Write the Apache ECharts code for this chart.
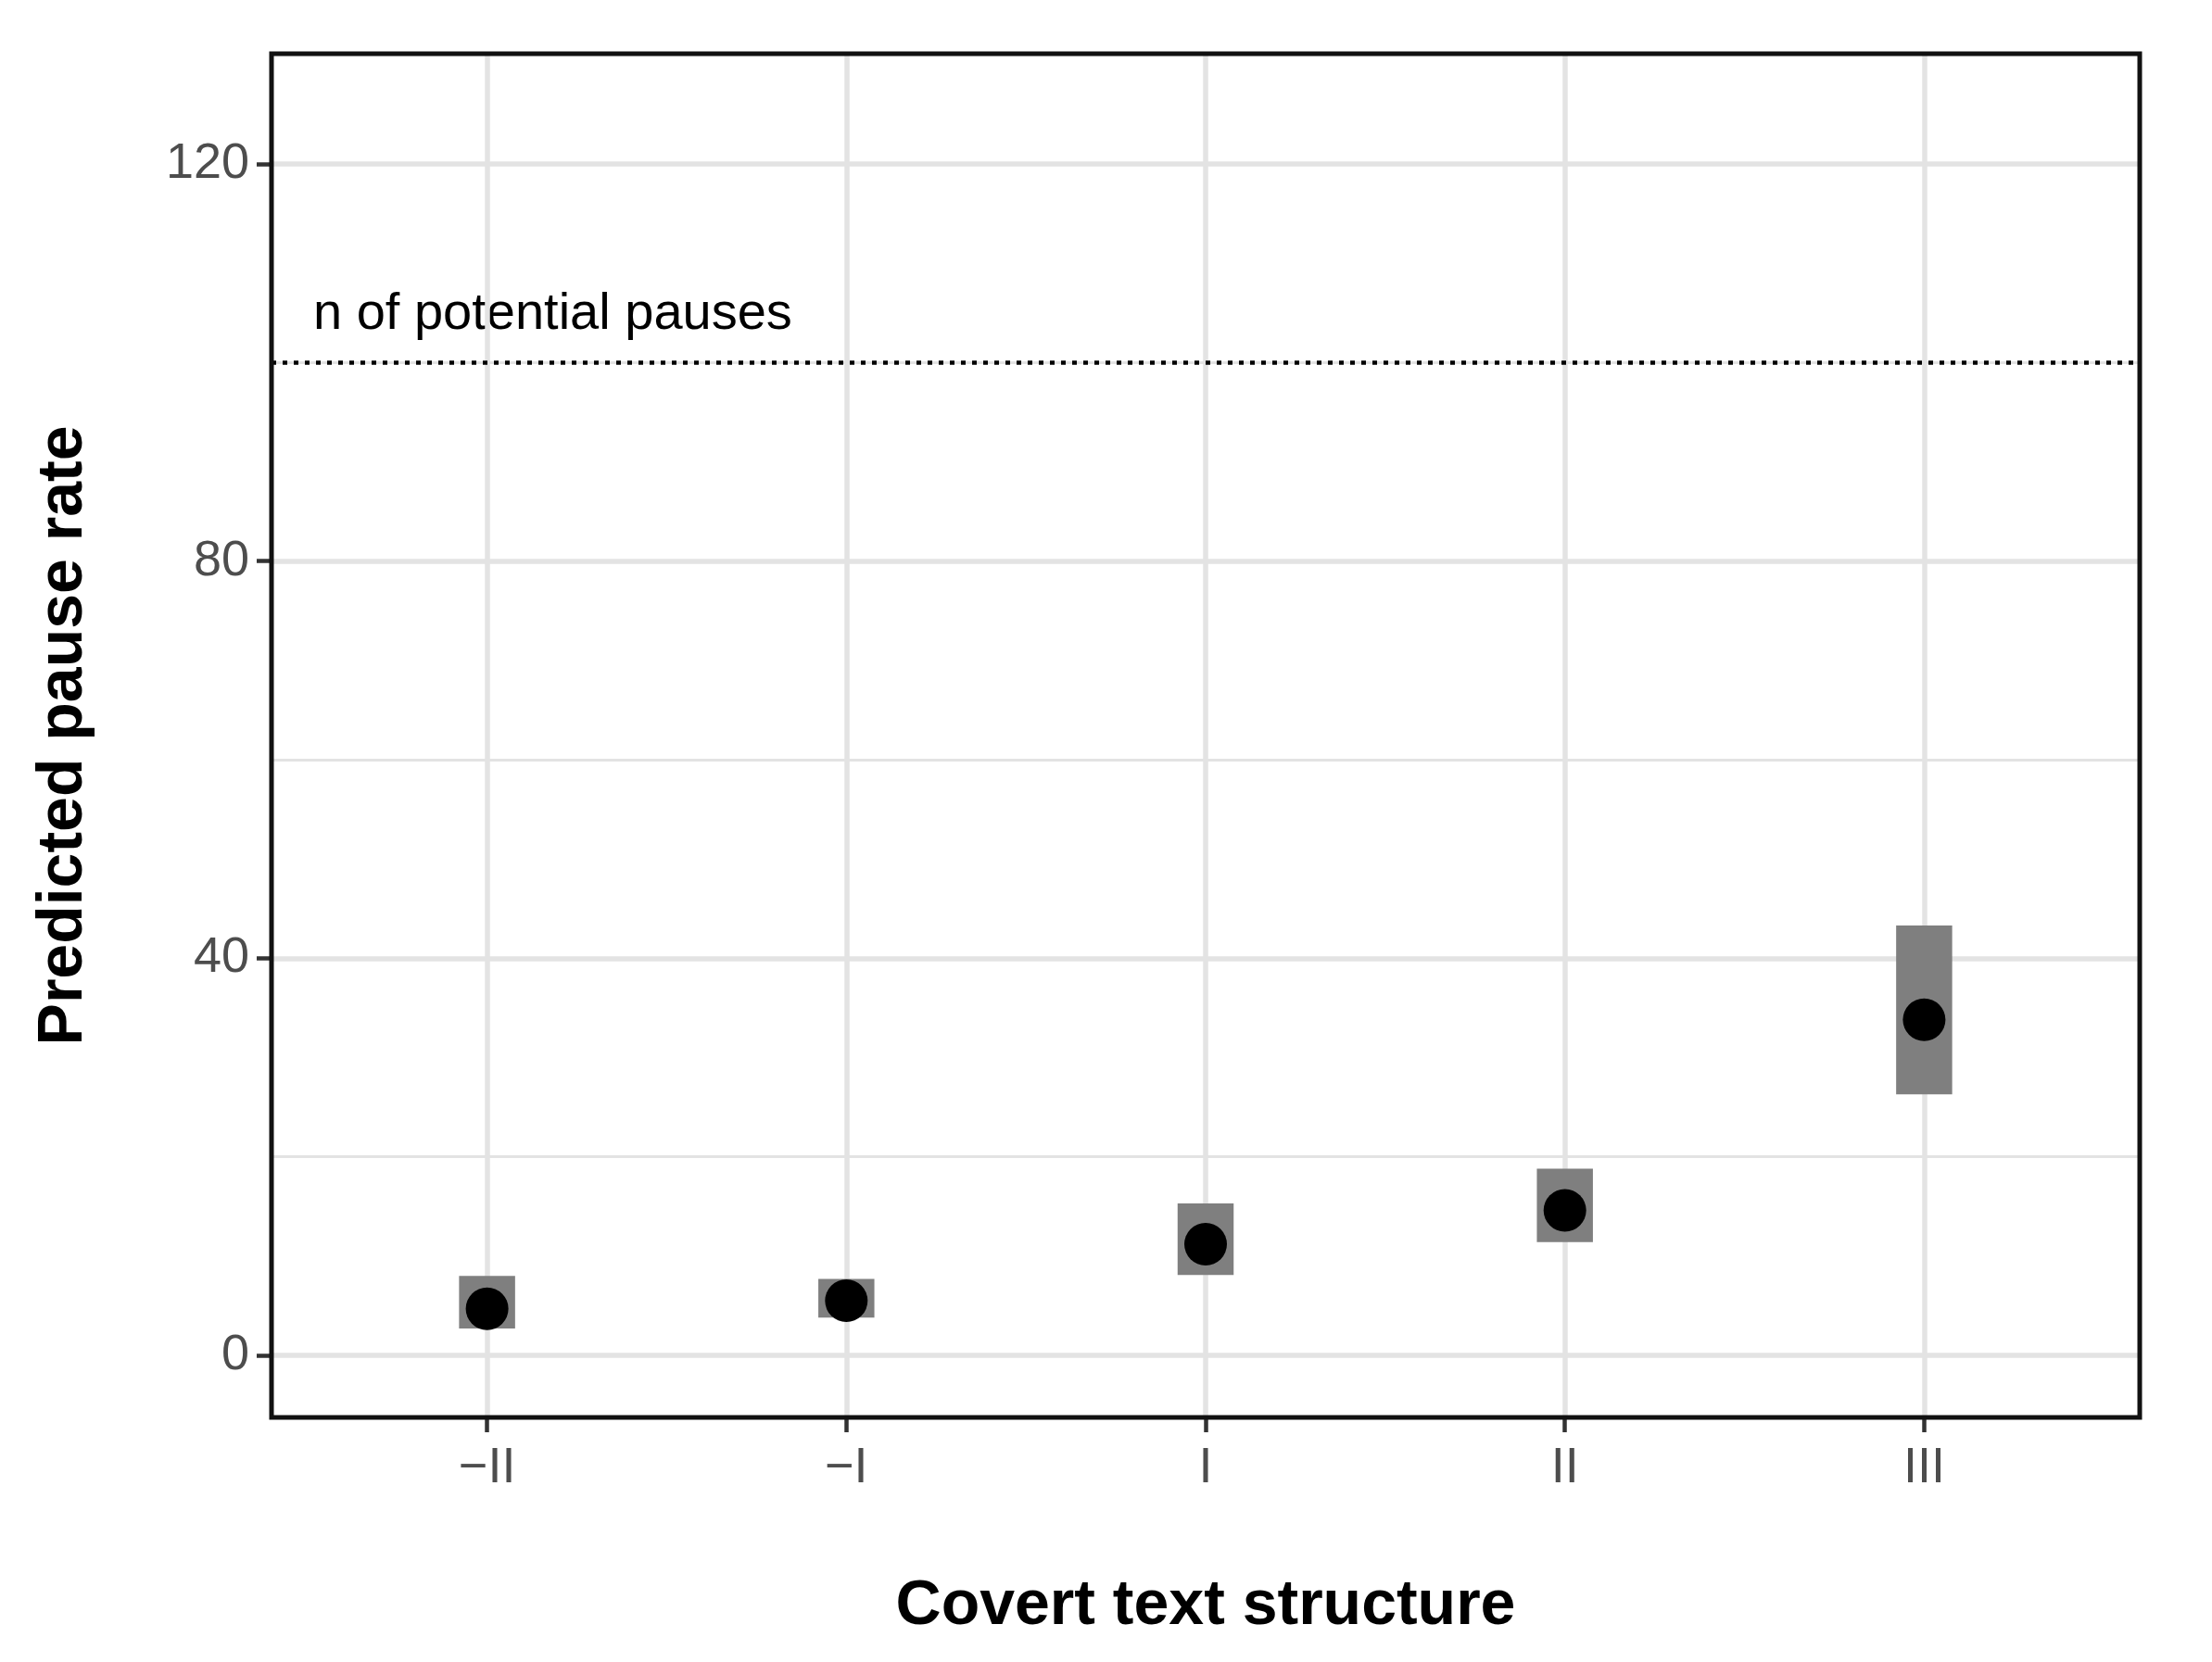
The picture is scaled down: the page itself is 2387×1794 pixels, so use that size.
<!DOCTYPE html>
<html><head><meta charset="utf-8">
<script src="https://cdn.jsdelivr.net/npm/echarts@6/dist/echarts.min.js"></script>
<style>html,body{margin:0;background:#fff}#c{width:2387px;height:1794px}</style>
</head><body><div id="c"></div>
<script>
var categories = ['\u2212II', '\u2212I', 'I', 'II', 'III'];
var estimates = [4.7, 5.5, 11.2, 14.6, 33.8];
var lower = [2.7, 3.8, 8.1, 11.4, 26.3];
var upper = [8.0, 7.7, 15.3, 18.8, 43.3];
var yTicks = [0, 40, 80, 120];
var yMinor = [20, 60, 100];
var potentialPauses = 100;

var chart = echarts.init(document.getElementById('c'));
var xs = categories.map(function(c, i){ return i; });
var gridColor = '#e3e3e3';
var lines = [];
yTicks.forEach(function(v){ lines.push({yAxis: v, lineStyle: {color: gridColor, width: 5.5, type: 'solid'}}); });
yMinor.forEach(function(v){ lines.push({yAxis: v, lineStyle: {color: gridColor, width: 2.8, type: 'solid'}}); });
xs.forEach(function(v){ lines.push({xAxis: v, lineStyle: {color: gridColor, width: 5.5, type: 'solid'}}); });

chart.setOption({
	animation: false,
	grid: {left: 293, right: 78, top: 58, bottom: 264, show: true, borderColor: '#111', borderWidth: 5, z: 10},
	xAxis: {
		type: 'value', min: -0.6, max: 4.6,
		name: 'Covert text structure', nameLocation: 'middle', nameGap: 170,
		nameTextStyle: {fontFamily: 'Liberation Sans', fontWeight: 'bold', fontSize: 68, color: '#000'},
		axisLine: {show: false, onZero: false},
		axisTick: {show: true, inside: false, customValues: xs, length: 16, lineStyle: {color: '#333', width: 4.5}},
		axisLabel: {customValues: xs, formatter: function(v){ return categories[Math.round(v)]; },
			fontFamily: 'Liberation Sans', fontSize: 54, color: '#4d4d4d', margin: 28},
		splitLine: {show: false}
	},
	yAxis: {
		type: 'value', min: -6.25, max: 131.1,
		name: 'Predicted pause rate', nameLocation: 'middle', nameGap: 190,
		nameTextStyle: {fontFamily: 'Liberation Sans', fontWeight: 'bold', fontSize: 68, color: '#000'},
		axisLine: {show: false, onZero: false},
		axisTick: {show: true, inside: false, customValues: yTicks, length: 16, lineStyle: {color: '#333', width: 4.5}},
		axisLabel: {customValues: yTicks, fontFamily: 'Liberation Sans', fontSize: 54, color: '#4d4d4d', margin: 24},
		splitLine: {show: false}
	},
	series: [
		{
			type: 'line', data: [], silent: true,
			markLine: {symbol: 'none', silent: true, label: {show: false}, data: lines, z: 1}
		},
		{
			type: 'custom', z: 3,
			data: xs.map(function(x, i){ return [x, lower[i], upper[i]]; }),
			renderItem: function(params, api){
				var a = api.coord([api.value(0) - 0.078, api.value(2)]);
				var b = api.coord([api.value(0) + 0.078, api.value(1)]);
				return {type: 'rect', shape: {x: a[0], y: a[1], width: b[0] - a[0], height: b[1] - a[1]}, style: {fill: '#7f7f7f'}};
			}
		},
		{
			type: 'scatter', z: 4, symbolSize: 46,
			itemStyle: {color: '#000', opacity: 1},
			data: xs.map(function(x, i){ return [x, estimates[i]]; }),
			markLine: {
				symbol: 'none', silent: true,
				lineStyle: {color: '#000', type: [5, 7], width: 4.5},
				label: {show: false},
				data: [{yAxis: potentialPauses}]
			}
		}
	],
	graphic: [{
		type: 'text', left: 338, top: 312,
		style: {text: 'n of potential pauses', fontFamily: 'Liberation Sans', fontSize: 56, fill: '#000'}
	}]
});
</script></body></html>
